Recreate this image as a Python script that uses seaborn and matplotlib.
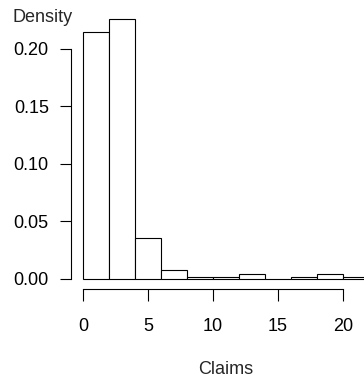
import matplotlib
matplotlib.use("Agg")
import matplotlib.pyplot as plt
import seaborn as sns
import numpy as np

# Data
bin_edges = [0, 2, 4, 6, 8, 10, 12, 14, 16, 18, 20, 22]
density = [0.215, 0.226, 0.036, 0.008, 0.002, 0.002, 0.004, 0.0, 0.002, 0.004, 0.002]
x_ticks = [0, 5, 10, 15, 20]
y_ticks = [0.00, 0.05, 0.10, 0.15, 0.20]
y_tick_labels = ["0.00", "0.05", "0.10", "0.15", "0.20"]

sns.set_style("white")
plt.rcParams['font.family'] = ['Liberation Sans', 'DejaVu Sans']

W, H = 364, 377
fig = plt.figure(figsize=(W / 100, H / 100), dpi=100)
left_px, right_px = 71.0, 71.0 + 23.76 * 13
top_px, bottom_px = 7.6, 289.3
ax = fig.add_axes([left_px / W, 1 - bottom_px / H,
                   (right_px - left_px) / W, (bottom_px - top_px) / H])

centers = [(a + b) / 2 for a, b in zip(bin_edges[:-1], bin_edges[1:])]
sns.histplot(x=centers, weights=density, bins=bin_edges, stat="count",
             color="white", edgecolor="black", linewidth=0.8, alpha=1,
             ax=ax)

ax.set_xlim(-0.92, 22.84)
ax.set_ylim(-0.009, 0.236)

for s in ["top", "right"]:
    ax.spines[s].set_visible(False)
for s in ["left", "bottom"]:
    ax.spines[s].set_visible(True)
    ax.spines[s].set_color("black")
    ax.spines[s].set_linewidth(0.8)
ax.spines["left"].set_bounds(0, 0.20)
ax.spines["bottom"].set_bounds(0, 20)

ax.set_xticks(x_ticks)
ax.set_xticklabels([str(t) for t in x_ticks])
ax.set_yticks(y_ticks)
ax.set_yticklabels(y_tick_labels)
ax.tick_params(axis="y", length=8, width=0.8, pad=8, labelsize=13,
               direction="out", left=True, colors="black")
ax.tick_params(axis="x", length=8.5, width=0.8, pad=12, labelsize=13,
               direction="out", bottom=True, colors="black")
ax.set_xlabel("")
ax.set_ylabel("")

fig.text(12 / W, 1 - 17.5 / H, "Density", ha="left", va="center", fontsize=13)
fig.text(226 / W, 1 - 369.5 / H, "Claims", ha="center", va="center", fontsize=13)

fig.savefig("out.png", dpi=100)
